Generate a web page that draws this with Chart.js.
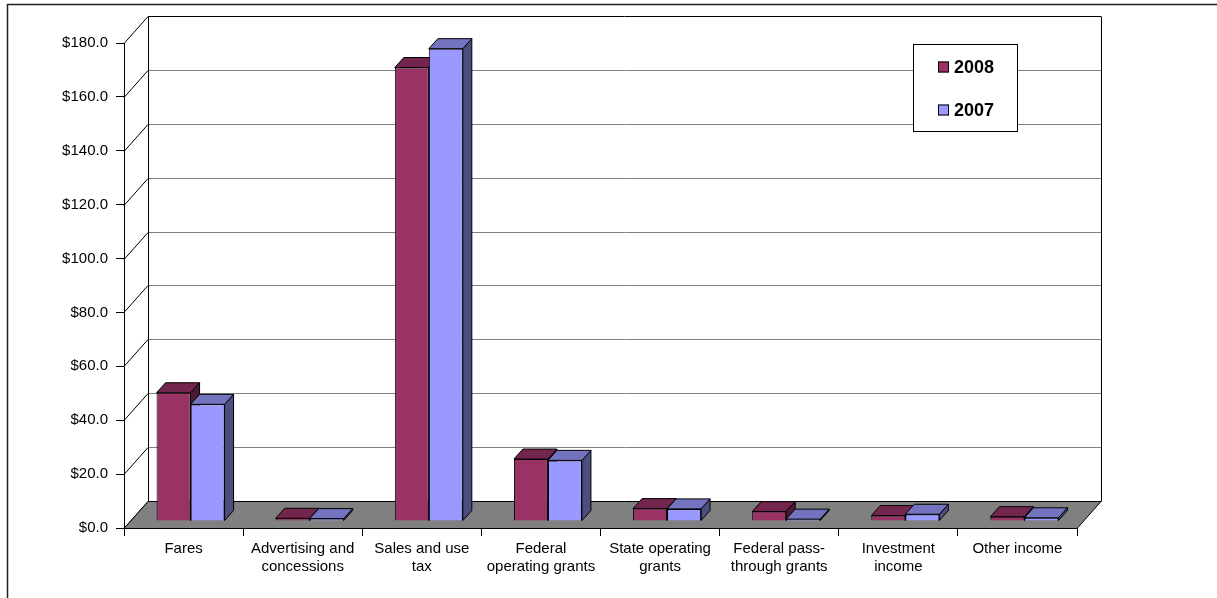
<!DOCTYPE html>
<html>
<head>
<meta charset="utf-8">
<script src="https://cdn.jsdelivr.net/npm/chart.js@4/dist/chart.umd.min.js"></script>
<style>
html,body{margin:0;padding:0;background:#fff;}
#wrap{position:relative;width:1217px;height:598px;}
</style>
</head>
<body>
<div id="wrap"><canvas id="c"></canvas></div>
<script>
const categories = [
  ["Fares"],
  ["Advertising and", "concessions"],
  ["Sales and use", "tax"],
  ["Federal", "operating grants"],
  ["State operating", "grants"],
  ["Federal pass-", "through grants"],
  ["Investment", "income"],
  ["Other income"]
];
const seriesNames = ["2008", "2007"];
const values2008 = [47.6, 1.0, 168.3, 23.0, 4.6, 3.5, 2.0, 1.6];
const values2007 = [43.3, 0.9, 175.3, 22.5, 4.5, 0.7, 2.5, 1.2];
const yMin = 0, yMax = 180, yStep = 20;

const FRONT = ["#993366", "#9999FF"];
const TOP = ["#73264D", "#7373BF"];
const SIDE = ["#4D1A33", "#4D4D80"];

const DEPTH_X = 24, DEPTH_Y = -27;   // wall depth
const BAR_SHIFT_X = 7, BAR_SHIFT_Y = -7; // bar row position in depth
const BAR_DX = 9, BAR_DY = -10;      // bar thickness in depth
const FONT = "'Liberation Sans', Arial, sans-serif";

function poly(ctx, pts, fill, stroke) {
  ctx.beginPath();
  ctx.moveTo(pts[0][0], pts[0][1]);
  for (let i = 1; i < pts.length; i++) ctx.lineTo(pts[i][0], pts[i][1]);
  ctx.closePath();
  if (fill) { ctx.fillStyle = fill; ctx.fill(); }
  if (stroke) { ctx.strokeStyle = stroke; ctx.lineWidth = 1; ctx.stroke(); }
}

const box3d = {
  id: 'box3d',
  beforeDraw(chart) {
    const ctx = chart.ctx;
    const a = chart.chartArea;
    const ys = chart.scales.y;
    const L = a.left, R = a.right, B = ys.getPixelForValue(yMin), T = ys.getPixelForValue(yMax);
    ctx.save();
    ctx.fillStyle = '#fff';
    ctx.fillRect(0, 0, chart.width, chart.height);
    // outer border
    ctx.strokeStyle = '#222';
    ctx.lineWidth = 1.5;
    ctx.strokeRect(7.5, 4.5, chart.width + 10, chart.height + 10);
    // back wall
    ctx.lineWidth = 1;
    // gridlines
    for (let v = yMin; v <= yMax; v += yStep) {
      const yf = Math.round(ys.getPixelForValue(v)) + 0.5;
      const yb = yf + DEPTH_Y;
      ctx.strokeStyle = (v === yMax) ? '#000' : '#808080';
      ctx.beginPath(); ctx.moveTo(L + DEPTH_X, yb); ctx.lineTo(R + DEPTH_X, yb); ctx.stroke();
      ctx.strokeStyle = '#000';
      ctx.beginPath(); ctx.moveTo(L, yf); ctx.lineTo(L + DEPTH_X, yb); ctx.stroke();
    }
    const bT = Math.round(T) + 0.5 + DEPTH_Y, bB = Math.round(B) + 0.5 + DEPTH_Y;
    ctx.strokeStyle = '#000';
    ctx.beginPath();
    ctx.moveTo(L + DEPTH_X + 0.5, bB); ctx.lineTo(L + DEPTH_X + 0.5, bT);
    ctx.moveTo(R + DEPTH_X + 0.5, bB); ctx.lineTo(R + DEPTH_X + 0.5, bT);
    ctx.stroke();
    // floor
    const fy = Math.round(B) + 0.5;
    poly(ctx, [[L, fy], [R, fy], [R + DEPTH_X, fy + DEPTH_Y], [L + DEPTH_X, fy + DEPTH_Y]], '#808080', '#000');
    ctx.restore();
  },
  beforeDatasetsDraw(chart) {
    const ctx = chart.ctx;
    ctx.save();
    ctx.translate(BAR_SHIFT_X, BAR_SHIFT_Y);
    const metas = chart.data.datasets.map((d, i) => chart.getDatasetMeta(i));
    const n = chart.data.labels.length;
    for (let i = 0; i < n; i++) {
      metas.forEach((meta, di) => {
        const el = meta.data[i];
        if (!el) return;
        const p = el.getProps(['x', 'y', 'base', 'width'], true);
        const l = p.x - p.width / 2, r = p.x + p.width / 2, t = Math.min(p.y, p.base), b = Math.max(p.y, p.base);
        poly(ctx, [[r, t], [r + BAR_DX, t + BAR_DY], [r + BAR_DX, b + BAR_DY], [r, b]], SIDE[di], '#000');
        poly(ctx, [[l, t], [r, t], [r + BAR_DX, t + BAR_DY], [l + BAR_DX, t + BAR_DY]], TOP[di], '#000');
      });
    }
  },
  afterDatasetsDraw(chart) {
    chart.ctx.restore();
  },
  afterDraw(chart) {
    const ctx = chart.ctx;
    ctx.save();
    ctx.fillStyle = '#fff';
    ctx.fillRect(913, 44, 104, 87);
    ctx.strokeStyle = '#000';
    ctx.lineWidth = 1;
    ctx.strokeRect(913.5, 44.5, 104, 87);
    const rows = [67, 110];
    chart.data.datasets.forEach((ds, i) => {
      ctx.fillStyle = FRONT[i];
      ctx.fillRect(938, rows[i] - 5.5, 11, 11);
      ctx.strokeStyle = '#000';
      ctx.strokeRect(938.5, rows[i] - 5, 10, 10);
      ctx.fillStyle = '#000';
      ctx.font = 'bold 18px ' + FONT;
      ctx.textBaseline = 'middle';
      ctx.textAlign = 'left';
      ctx.fillText(ds.label, 954, rows[i] + 1);
    });
    ctx.restore();
  }
};

new Chart(document.getElementById('c'), {
  type: 'bar',
  data: {
    labels: categories,
    datasets: [
      { label: seriesNames[0], data: values2008, backgroundColor: FRONT[0], borderColor: '#000', borderWidth: 1 },
      { label: seriesNames[1], data: values2007, backgroundColor: FRONT[1], borderColor: '#000', borderWidth: 1 }
    ]
  },
  options: {
    responsive: true,
    maintainAspectRatio: false,
    devicePixelRatio: 1,
    animation: false,
    events: [],
    layout: { padding: { left: 0, top: 43, right: 140, bottom: 0 } },
    datasets: { bar: { categoryPercentage: 0.571, barPercentage: 1.0, clip: false } },
    plugins: { legend: { display: false }, tooltip: { enabled: false } },
    scales: {
      x: {
        afterFit(s) { s.height = 70; },
        grid: { display: true, drawOnChartArea: false, drawTicks: true, tickLength: 8, color: '#000', offset: true },
        border: { display: true, color: '#000', width: 1 },
        ticks: { color: '#000', font: { family: FONT, size: 15, lineHeight: 1.2 }, padding: 4, maxRotation: 0, autoSkip: false }
      },
      y: {
        min: yMin, max: yMax,
        afterFit(s) { s.width = 124; },
        grid: { display: true, drawOnChartArea: false, drawTicks: true, tickLength: 8, color: '#000' },
        border: { display: true, color: '#000', width: 1 },
        ticks: { stepSize: yStep, color: '#000', padding: 8, font: { family: FONT, size: 15 }, callback: v => '$' + Number(v).toFixed(1) }
      }
    }
  },
  plugins: [box3d]
});
</script>
</body>
</html>
